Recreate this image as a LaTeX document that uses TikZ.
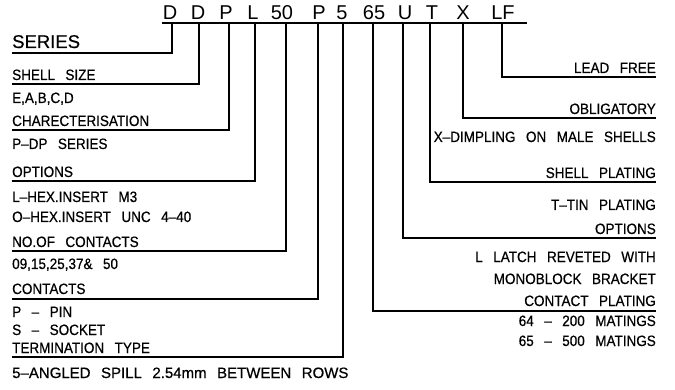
\documentclass[tikz,border=0pt]{standalone}
\usepackage{fontspec}
\setmainfont{Liberation Sans}
\newfontfamily\cadfont{Liberation Sans}[FakeBold=0.6,FakeStretch=0.9]
\newfontfamily\cadwide{Liberation Sans}[FakeBold=0.6]
\newcommand{\widespaces}{\spaceskip=10.5pt plus 0pt minus 0pt\relax}
\begin{document}
\begin{tikzpicture}[x=1pt,y=-1pt,
  lbl/.style={inner sep=0pt,font=\cadfont\fontsize{15}{17}\selectfont\widespaces},
  lft/.style={lbl,anchor=base west},
  rgt/.style={lbl,anchor=base east},
  code/.style={inner sep=0pt,anchor=base,font=\fontsize{20}{22}\selectfont},
  conn/.style={line width=1.4pt}]
\useasboundingbox (0,0) rectangle (675,390);
% code letters
\node[code] (c1) at (170,20) {D};
\node[code] (c2) at (198,20) {D};
\node[code] (c3) at (226,20) {P};
\node[code] (c4) at (253,20) {L};
\node[code] (c5) at (282,20) {50};
\node[code] (c6) at (319,20) {P};
\node[code] (c7) at (342,20) {5};
\node[code] (c8) at (374,20) {65};
\node[code] (c9) at (405,20) {U};
\node[code] (c10) at (432,20) {T};
\node[code] (c11) at (463,20) {X};
\node[code] (c12) at (503,20) {LF};
\coordinate (tl) at (162,23);
\coordinate (tr) at (527,23);
\draw[conn] (tl) -- (tr);
% top points
\coordinate (t1) at (172,23);
\coordinate (t2) at (199,23);
\coordinate (t3) at (229,23);
\coordinate (t4) at (255,23);
\coordinate (t5) at (286,23);
\coordinate (t6) at (318,23);
\coordinate (t7) at (343,23);
\coordinate (t8) at (373,23);
\coordinate (t9) at (403,23);
\coordinate (t10) at (430,23);
\coordinate (t11) at (463,23);
\coordinate (t12) at (502,23);
% end points
\coordinate (e1) at (12,53);
\coordinate (e2) at (12,84);
\coordinate (e3) at (12,130);
\coordinate (e4) at (12,181);
\coordinate (e5) at (12,251);
\coordinate (e6) at (12,299);
\coordinate (e7) at (12,357);
\coordinate (e8) at (656,311);
\coordinate (e9) at (656,238);
\coordinate (e10) at (656,182);
\coordinate (e11) at (656,118);
\coordinate (e12) at (656,77);
\foreach \i in {1,...,12} \draw[conn] (t\i) |- (e\i);
% left labels
\node[lft,font=\cadwide\fontsize{18.5}{20}\selectfont] (series) at (12,48) {SERIES};
\node[lft] (shell) at (12,80) {SHELL SIZE};
\node[lft] (shellv) at (12,103) {E,A,B,C,D};
\node[lft] (char) at (12,126) {CHARECTERISATION};
\node[lft] (charv) at (12,149) {P–DP SERIES};
\node[lft] (opt) at (12,177) {OPTIONS};
\node[lft] (optv1) at (12,202) {L–HEX.INSERT M3};
\node[lft] (optv2) at (12,222) {O–HEX.INSERT UNC 4–40};
\node[lft] (noc) at (12,247) {NO.OF CONTACTS};
\node[lft] (nocv) at (12,269) {09,15,25,37\& 50};
\node[lft] (cont) at (12,294) {CONTACTS};
\node[lft] (contv1) at (12,317) {P – PIN};
\node[lft] (contv2) at (12,335) {S – SOCKET};
\node[lft] (term) at (12,353) {TERMINATION TYPE};
\node[lft,font=\cadwide\fontsize{15}{17}\selectfont\widespaces] (termv) at (12,378) {5–ANGLED SPILL 2.54mm BETWEEN ROWS};
% right labels
\node[rgt] (lf) at (656,73) {LEAD FREE};
\node[rgt] (obl) at (656,114) {OBLIGATORY};
\node[rgt] (oblv) at (656,142) {X–DIMPLING ON MALE SHELLS};
\node[rgt] (sp) at (656,178) {SHELL PLATING};
\node[rgt] (spv) at (656,210) {T–TIN PLATING};
\node[rgt] (ropt) at (656,234) {OPTIONS};
\node[rgt] (roptv1) at (656,262) {L LATCH REVETED WITH};
\node[rgt] (roptv2) at (656,284) {MONOBLOCK BRACKET};
\node[rgt] (cp) at (656,306) {CONTACT PLATING};
\node[rgt] (cpv1) at (656,326) {64 – 200 MATINGS};
\node[rgt] (cpv2) at (656,346) {65 – 500 MATINGS};
\end{tikzpicture}
\end{document}
